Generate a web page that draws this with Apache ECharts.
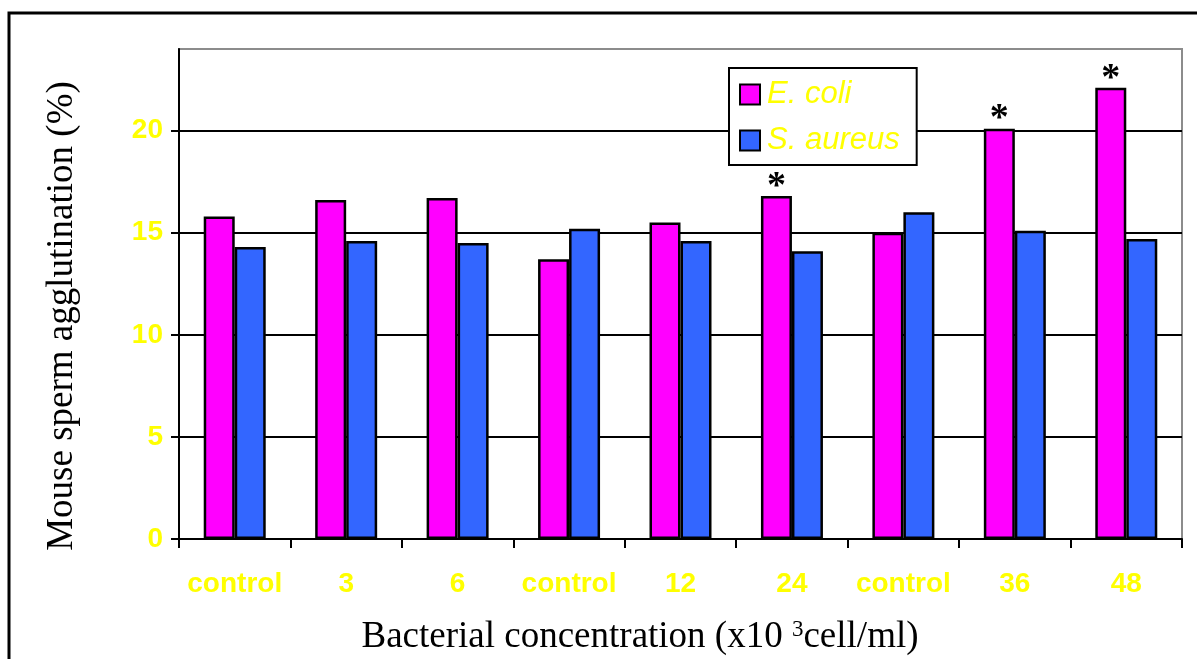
<!DOCTYPE html>
<html>
<head>
<meta charset="utf-8">
<script src="https://cdn.jsdelivr.net/npm/echarts@6/dist/echarts.min.js"></script>
<style>
  html, body { margin: 0; padding: 0; background: #fff; }
  #chart { width: 1197px; height: 659px; }
</style>
</head>
<body>
<div id="chart"></div>
<script>
// Sperm agglutination (%) by bacterial concentration
const categories = ['control', '3', '6', 'control', '12', '24', 'control', '36', '48'];
const eColi = [15.8, 16.6, 16.7, 13.7, 15.5, 16.8, 15.0, 20.1, 22.1];
const sAureus = [14.3, 14.6, 14.5, 15.2, 14.6, 14.1, 16.0, 15.1, 14.7];
// significance marks for E. coli groups
const eColiSignificant = [false, false, false, false, false, true, false, true, true];
const yTicks = [0, 5, 10, 15, 20];
const yMax = 24;

const YELLOW = '#FFFF00';
const SANS = '"Liberation Sans", Arial, sans-serif';
const SERIF = '"Liberation Serif", "Times New Roman", serif';

const chart = echarts.init(document.getElementById('chart'), null, { renderer: 'canvas' });

chart.setOption({
  animation: false,
  backgroundColor: '#fff',
  grid: {
    left: 179, top: 49, right: 15, bottom: 120,
    show: true, borderColor: '#8c8c8c', borderWidth: 2, backgroundColor: 'transparent'
  },
  legend: {
    orient: 'vertical',
    left: 729, top: 68,
    padding: [11, 17, 9, 10],
    itemGap: 15,
    itemWidth: 20, itemHeight: 20,
    backgroundColor: '#fff',
    borderColor: '#000', borderWidth: 2, borderRadius: 0,
    textStyle: { color: YELLOW, fontSize: 31, fontStyle: 'italic', fontFamily: SANS, padding: [0, 0, 0, 2] },
    data: [
      { name: 'E. coli', icon: 'rect' },
      { name: 'S. aureus', icon: 'rect' }
    ]
  },
  xAxis: {
    type: 'category',
    data: categories,
    axisLine: { lineStyle: { color: '#000', width: 2 } },
    axisTick: { show: true, length: 9, lineStyle: { color: '#000', width: 2 } },
    axisLabel: { color: YELLOW, fontSize: 28, fontWeight: 'bold', fontFamily: SANS, margin: 31, interval: 0 },
    splitLine: { show: false }
  },
  yAxis: {
    type: 'value',
    min: 0, max: yMax, interval: 5,
    axisLine: { show: true, lineStyle: { color: '#000', width: 2 } },
    axisTick: { show: true, length: 8, lineStyle: { color: '#000', width: 2 }, customValues: yTicks },
    axisLabel: { color: YELLOW, fontSize: 28, fontWeight: 'bold', fontFamily: SANS, margin: 16, customValues: yTicks },
    splitLine: { show: true, lineStyle: { color: '#000', width: 2 } }
  },
  series: [
    {
      name: 'E. coli',
      type: 'bar',
      data: eColi,
      barWidth: 31,
      barGap: '0%',
      itemStyle: { color: '#FF00FF', borderColor: '#000', borderWidth: 2.5 },
      label: {
        show: true,
        position: 'top',
        distance: -10,
        color: '#000',
        fontSize: 38,
        fontWeight: 'bold',
        fontFamily: SERIF,
        formatter: p => eColiSignificant[p.dataIndex] ? '*' : ''
      }
    },
    {
      name: 'S. aureus',
      type: 'bar',
      data: sAureus,
      barWidth: 31,
      barGap: '0%',
      itemStyle: { color: '#3366FF', borderColor: '#000', borderWidth: 2.5 }
    }
  ],
  graphic: [
    {
      type: 'rect',
      shape: { x: 9, y: 13, width: 1300, height: 800 },
      style: { fill: 'none', stroke: '#000', lineWidth: 3 },
      silent: true, z: 100
    },
    {
      type: 'text',
      x: 62, y: 316,
      rotation: Math.PI / 2,
      style: {
        text: 'Mouse sperm agglutination (%)',
        font: '37px ' + SERIF,
        fill: '#000',
        align: 'center',
        verticalAlign: 'middle'
      },
      silent: true
    },
    {
      type: 'text',
      x: 640, y: 637,
      style: {
        text: 'Bacterial concentration (x10 {sup|3}cell/ml)',
        font: '37px ' + SERIF,
        fill: '#000',
        align: 'center',
        verticalAlign: 'middle',
        rich: {
          sup: { fontSize: 23, fontFamily: SERIF, fill: '#000', verticalAlign: 'top' }
        }
      },
      silent: true
    }
  ]
});
</script>
</body>
</html>
